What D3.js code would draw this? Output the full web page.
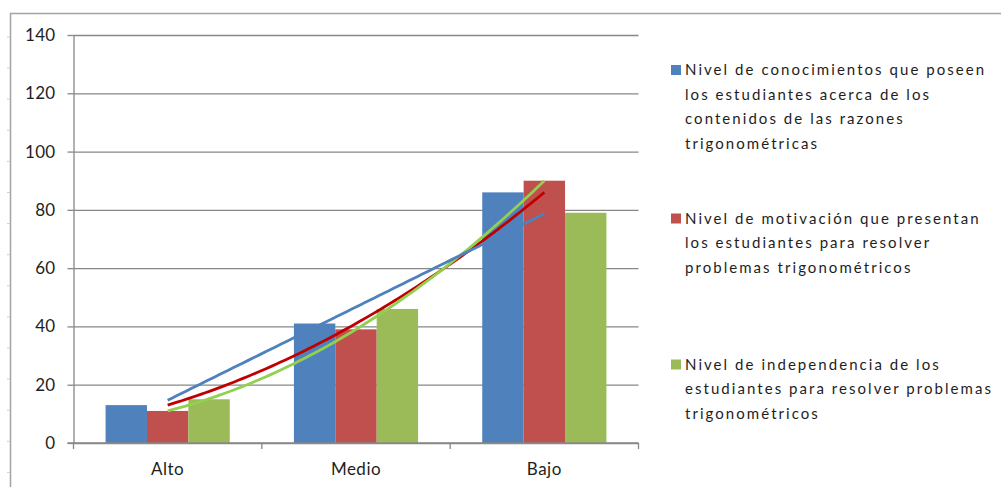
<!DOCTYPE html>
<html>
<head>
<meta charset="utf-8">
<script src="https://cdn.jsdelivr.net/npm/d3@7"></script>
<style>
  html, body { margin: 0; padding: 0; background: #fff; }
  svg { display: block; font-family: Lato, "Open Sans", sans-serif; }
</style>
</head>
<body>
<svg id="chart" width="1001" height="487"></svg>
<script>
// ---- data ----
const categories = ["Alto", "Medio", "Bajo"];
const conocimientos = [13, 41, 86];
const motivacion = [11, 39, 90];
const independencia = [15, 46, 79];
const yTicks = [0, 20, 40, 60, 80, 100, 120, 140];
const nombresConocimientos = ["Nivel de conocimientos que poseen", "los estudiantes acerca de los", "contenidos de las razones", "trigonométricas"];
const nombresMotivacion = ["Nivel de motivación que presentan", "los estudiantes para resolver", "problemas trigonométricos"];
const nombresIndependencia = ["Nivel de independencia de los", "estudiantes para resolver problemas", "trigonométricos"];

// trend lines: each one is fitted to a series (polynomial order)
const trendSource = ["conocimientos", "motivacion", "independencia"];
const trendOrder = [2, 2, 1];

// ---- styles & layout ----
const barColors = ["#4F81BD", "#C0504D", "#9BBB59"];
const trendColors = ["#C00000", "#92D050", "#4F81BD"];
const gridColor = "#878787";
const textColor = "#1e1e1e";

const series = [
  { key: "conocimientos", values: conocimientos, names: nombresConocimientos },
  { key: "motivacion", values: motivacion, names: nombresMotivacion },
  { key: "independencia", values: independencia, names: nombresIndependencia }
];

const plot = { left: 73.5, right: 638.5, top: 35, bottom: 443 };
const svg = d3.select("#chart");

// outer chart frame
svg.append("path")
  .attr("d", "M10.5,487 L10.5,13.5 L1001,13.5")
  .attr("fill", "none").attr("stroke", "#a3a3a3").attr("stroke-width", 1.5);
svg.append("g").selectAll("line")
  .data(d3.range(37, 487, 31.1))
  .join("line")
  .attr("x1", 7).attr("x2", 10).attr("y1", d => d).attr("y2", d => d)
  .attr("stroke", "#d0d0d0").attr("stroke-width", 1);

// scales
const x = d3.scaleBand().domain(categories).range([plot.left, plot.right]).paddingInner(0).paddingOuter(0);
const y = d3.scaleLinear().domain([0, 140]).range([plot.bottom, plot.top]);
const bw = x.bandwidth();
const barW = bw / 4.55;
const xs = d3.scaleBand().domain(series.map(s => s.key))
  .range([(bw - 3 * barW) / 2, (bw + 3 * barW) / 2]);
const xIdx = d3.scaleLinear().domain([1, categories.length])
  .range([x(categories[0]) + bw / 2, x(categories[categories.length - 1]) + bw / 2]);

// gridlines
svg.append("g")
  .attr("transform", `translate(${plot.left},0)`)
  .call(d3.axisLeft(y).tickValues(yTicks).tickSize(-(plot.right - plot.left)).tickFormat(""))
  .call(g => g.select(".domain").remove())
  .call(g => g.selectAll(".tick line").attr("stroke", gridColor).attr("stroke-width", 1.3));

// y axis with outward ticks and labels
svg.append("g")
  .attr("transform", `translate(${plot.left},0)`)
  .call(d3.axisLeft(y).tickValues(yTicks).tickSize(6).tickSizeOuter(0).tickPadding(12))
  .call(g => g.select(".domain").attr("stroke", gridColor).attr("stroke-width", 1.3))
  .call(g => g.selectAll(".tick line").attr("stroke", gridColor).attr("stroke-width", 1.3))
  .call(g => g.selectAll(".tick text")
    .attr("fill", textColor).attr("font-size", 17).attr("font-family", "Lato, sans-serif")
    .attr("letter-spacing", 0.3));

// bars
svg.append("g").selectAll("g")
  .data(series)
  .join("g")
  .attr("fill", (d, i) => barColors[i])
  .selectAll("rect")
  .data(s => s.values.map((v, i) => ({ key: s.key, cat: categories[i], v })))
  .join("rect")
  .attr("x", d => x(d.cat) + xs(d.key))
  .attr("width", xs.bandwidth())
  .attr("y", d => y(d.v))
  .attr("height", d => y(0) - y(d.v));

// x axis line and category ticks at band boundaries
svg.append("line")
  .attr("x1", plot.left - 6).attr("x2", plot.right)
  .attr("y1", y(0)).attr("y2", y(0))
  .attr("stroke", gridColor).attr("stroke-width", 1.3);
svg.append("g").selectAll("line")
  .data(categories.map(c => x(c)).concat([x(categories[categories.length - 1]) + bw]))
  .join("line")
  .attr("x1", d => d).attr("x2", d => d)
  .attr("y1", y(0)).attr("y2", y(0) + 6)
  .attr("stroke", gridColor).attr("stroke-width", 1.3);

svg.append("g")
  .attr("transform", `translate(0,${y(0)})`)
  .call(d3.axisBottom(x).tickSize(0).tickPadding(20))
  .call(g => g.select(".domain").remove())
  .call(g => g.selectAll(".tick text")
    .attr("fill", textColor).attr("font-size", 17).attr("font-family", "Lato, sans-serif")
    .attr("letter-spacing", 0.5));

// least-squares polynomial fit over category positions 1..n
function polyFit(values, order) {
  const n = order + 1;
  const A = Array.from({ length: n }, () => new Array(n + 1).fill(0));
  values.forEach((v, i) => {
    const xi = i + 1;
    for (let r = 0; r < n; r++) {
      for (let c = 0; c < n; c++) A[r][c] += Math.pow(xi, r + c);
      A[r][n] += v * Math.pow(xi, r);
    }
  });
  for (let p = 0; p < n; p++) {
    let m = p;
    for (let r = p + 1; r < n; r++) if (Math.abs(A[r][p]) > Math.abs(A[m][p])) m = r;
    [A[p], A[m]] = [A[m], A[p]];
    for (let r = 0; r < n; r++) {
      if (r === p) continue;
      const f = A[r][p] / A[p][p];
      for (let c = p; c <= n; c++) A[r][c] -= f * A[p][c];
    }
  }
  const coef = A.map((row, i) => row[n] / row[i]);
  return t => coef.reduce((s, c, k) => s + c * Math.pow(t, k), 0);
}

const line = d3.line().x(d => xIdx(d[0])).y(d => y(d[1]));
const tSamples = d3.range(1, categories.length + 0.0001, 0.025);
svg.append("g").selectAll("path")
  .data(trendSource.map((key, i) => {
    const s = series.find(q => q.key === key);
    const f = polyFit(s.values, trendOrder[i]);
    return tSamples.map(t => [t, f(t)]);
  }))
  .join("path")
  .attr("d", line)
  .attr("fill", "none")
  .attr("stroke", (d, i) => trendColors[i])
  .attr("stroke-width", 2.8)
  .attr("stroke-linecap", "butt");

// legend
const legendTops = [65, 213.5, 359.5];
const legendLine = 24.4;
const legend = svg.append("g").selectAll("g")
  .data(series)
  .join("g")
  .attr("transform", (d, i) => `translate(671,${legendTops[i]})`);
legend.append("rect")
  .attr("width", 10).attr("height", 10)
  .attr("fill", (d, i) => barColors[i]);
legend.append("text")
  .attr("fill", textColor)
  .attr("font-size", 15)
  .attr("letter-spacing", 2.05)
  .selectAll("tspan")
  .data(d => d.names)
  .join("tspan")
  .attr("x", 14)
  .attr("y", (d, i) => 10.3 + i * legendLine)
  .text(d => d);
</script>
</body>
</html>
